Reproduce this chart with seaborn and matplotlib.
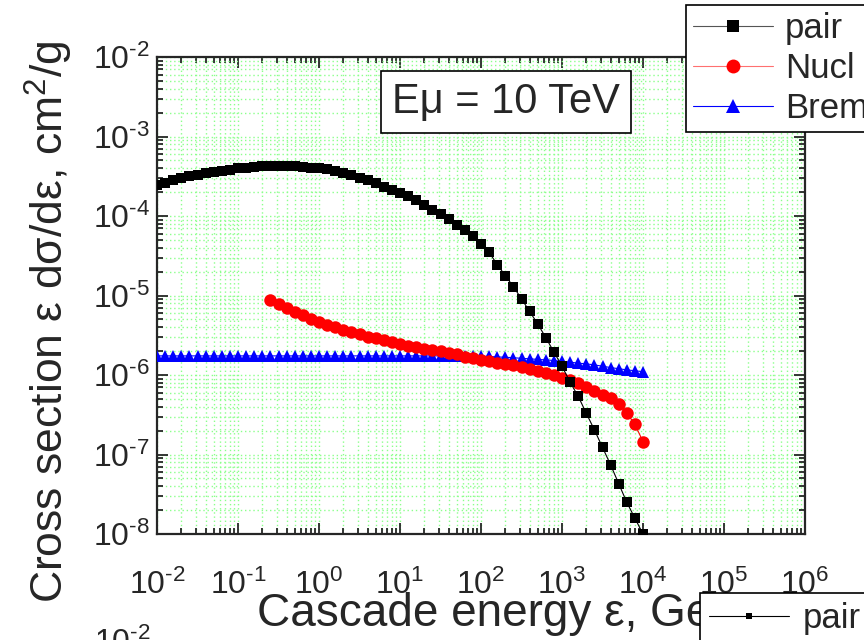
"""Differential cross sections of muon energy loss processes at E_mu = 10 TeV."""

import numpy as np
import matplotlib
matplotlib.use("Agg")
import matplotlib.pyplot as plt
from matplotlib.lines import Line2D
from matplotlib.ticker import LogLocator, FuncFormatter, NullFormatter
import seaborn as sns

# log10 of cascade energy (GeV), 0.1 decade steps
log_e_all = [-2.0, -1.9, -1.8, -1.7, -1.6, -1.5, -1.4, -1.3, -1.2, -1.1,
             -1.0, -0.9, -0.8, -0.7, -0.6, -0.5, -0.4, -0.3, -0.2, -0.1,
             0.0, 0.1, 0.2, 0.3, 0.4, 0.5, 0.6, 0.7, 0.8, 0.9,
             1.0, 1.1, 1.2, 1.3, 1.4, 1.5, 1.6, 1.7, 1.8, 1.9,
             2.0, 2.1, 2.2, 2.3, 2.4, 2.5, 2.6, 2.7, 2.8, 2.9,
             3.0, 3.1, 3.2, 3.3, 3.4, 3.5, 3.6, 3.7, 3.8, 3.9, 4.0]
log_e_nucl = log_e_all[14:]

# epsilon dsigma/depsilon, cm^2/g
pair = [2.45e-4, 2.63e-4, 2.82e-4, 3.02e-4, 3.16e-4, 3.31e-4, 3.47e-4, 3.55e-4, 3.72e-4, 3.80e-4,
        3.98e-4, 4.07e-4, 4.17e-4, 4.27e-4, 4.27e-4, 4.27e-4, 4.27e-4, 4.27e-4, 4.17e-4, 4.07e-4,
        3.98e-4, 3.89e-4, 3.72e-4, 3.47e-4, 3.24e-4, 3.02e-4, 2.82e-4, 2.57e-4, 2.34e-4, 2.14e-4,
        1.95e-4, 1.78e-4, 1.58e-4, 1.38e-4, 1.20e-4, 1.05e-4, 9.1e-5, 7.8e-5, 6.6e-5, 5.6e-5,
        4.5e-5, 3.5e-5, 2.45e-5, 1.78e-5, 1.29e-5, 9.1e-6, 6.3e-6, 4.4e-6, 2.95e-6, 1.95e-6,
        1.29e-6, 8.1e-7, 5.4e-7, 3.3e-7, 2.04e-7, 1.23e-7, 7.4e-8, 4.3e-8, 2.5e-8, 1.58e-8, 1.0e-8]

nucl = [8.71e-6, 7.76e-6, 6.92e-6, 6.17e-6, 5.62e-6, 5.13e-6,
        4.68e-6, 4.27e-6, 3.98e-6, 3.72e-6, 3.47e-6, 3.24e-6, 3.02e-6, 2.88e-6, 2.75e-6, 2.63e-6,
        2.45e-6, 2.34e-6, 2.24e-6, 2.14e-6, 2.09e-6, 2.00e-6, 1.91e-6, 1.82e-6, 1.70e-6, 1.62e-6,
        1.55e-6, 1.48e-6, 1.41e-6, 1.38e-6, 1.32e-6, 1.26e-6, 1.20e-6, 1.12e-6, 1.07e-6, 1.00e-6,
        9.3e-7, 8.7e-7, 7.9e-7, 7.1e-7, 6.3e-7, 5.6e-7, 5.1e-7, 4.3e-7, 3.3e-7, 2.4e-7, 1.45e-7]

brem = [1.74e-6, 1.74e-6, 1.74e-6, 1.74e-6, 1.74e-6, 1.74e-6, 1.74e-6, 1.74e-6, 1.74e-6, 1.74e-6,
        1.74e-6, 1.74e-6, 1.74e-6, 1.74e-6, 1.74e-6, 1.74e-6, 1.74e-6, 1.74e-6, 1.74e-6, 1.74e-6,
        1.74e-6, 1.74e-6, 1.74e-6, 1.74e-6, 1.74e-6, 1.74e-6, 1.74e-6, 1.74e-6, 1.74e-6, 1.74e-6,
        1.74e-6, 1.74e-6, 1.74e-6, 1.74e-6, 1.74e-6, 1.74e-6, 1.73e-6, 1.73e-6, 1.72e-6, 1.72e-6,
        1.72e-6, 1.71e-6, 1.69e-6, 1.67e-6, 1.65e-6, 1.62e-6, 1.60e-6, 1.57e-6, 1.55e-6, 1.52e-6,
        1.49e-6, 1.45e-6, 1.41e-6, 1.38e-6, 1.34e-6, 1.29e-6, 1.24e-6, 1.20e-6, 1.16e-6, 1.13e-6, 1.10e-6]

energy_all = 10.0 ** np.array(log_e_all)
energy_nucl = 10.0 ** np.array(log_e_nucl)

sns.set_style("ticks")
plt.rcParams["font.family"] = ["Liberation Sans", "DejaVu Sans"]
plt.rcParams["mathtext.fontset"] = "custom"
plt.rcParams["mathtext.rm"] = "Liberation Sans"
plt.rcParams["mathtext.it"] = "Liberation Sans:italic"
plt.rcParams["mathtext.bf"] = "Liberation Sans:bold"

fig = plt.figure(figsize=(8.64, 6.4), dpi=100)
ax = fig.add_axes([157 / 864, 1 - 534 / 640, 648 / 864, 477 / 640])

sns.lineplot(x=energy_all, y=pair, ax=ax, color="black", lw=0.8, marker="s",
             markersize=7, markeredgewidth=0, label="pair", legend=False, zorder=5)
sns.lineplot(x=energy_nucl, y=nucl, ax=ax, color="red", lw=0.8, marker="o",
             markersize=9, markeredgewidth=0, label="Nucl", legend=False, zorder=4)
sns.lineplot(x=energy_all, y=brem, ax=ax, color="blue", lw=0.8, marker="^",
             markersize=9, markeredgewidth=0, label="Brem", legend=False, zorder=3)

ax.set_xscale("log")
ax.set_yscale("log")
ax.set_xlim(1e-2, 1e6)
ax.set_ylim(1e-8, 1e-2)


def pow_fmt(v, pos):
    e = int(round(np.log10(v)))
    if e < 0:
        return r"$\mathregular{10^{\text{-}%d}}$" % (-e)
    return r"$\mathregular{10^{%d}}$" % e


for axis in (ax.xaxis, ax.yaxis):
    axis.set_major_locator(LogLocator(base=10, numticks=20))
    axis.set_minor_locator(LogLocator(base=10, subs=np.arange(2, 10), numticks=20))
    axis.set_major_formatter(FuncFormatter(pow_fmt))
    axis.set_minor_formatter(NullFormatter())

ax.grid(which="both", color="#8cff8c", linestyle=(0, (1, 2)), linewidth=1.0)
ax.set_axisbelow(True)
ax.tick_params(which="both", direction="in", top=True, right=True, width=1.3)
ax.tick_params(which="major", length=8, labelsize=23)
ax.tick_params(axis="x", which="major", pad=26)
ax.tick_params(axis="y", which="major", pad=5)
ax.tick_params(which="minor", length=4)
for sp in ax.spines.values():
    sp.set_linewidth(1.6)

ax.set_xlabel("Cascade energy ε, GeV", fontsize=33)
ax.set_ylabel(r"Cross section ε dσ/dε, cm$^\mathregular{2}$/g", fontsize=32)
ax.xaxis.set_label_coords(0.529, -0.122)
ax.yaxis.set_label_coords(-0.127, 0.444)

ax.text(0.5386, 0.9057, "Eμ = 10 TeV", transform=ax.transAxes, fontsize=30,
        ha="center", va="center",
        bbox=dict(boxstyle="square,pad=0.26", facecolor="white", edgecolor="black", linewidth=1.2),
        zorder=10)

handles = [
    Line2D([], [], color="#555555", lw=0.8, marker="s", markersize=8,
           markerfacecolor="black", markeredgewidth=0),
    Line2D([], [], color="#ff7070", lw=0.8, marker="o", markersize=10,
           markerfacecolor="red", markeredgewidth=0),
    Line2D([], [], color="blue", lw=0.8, marker="^", markersize=10, markeredgewidth=0),
]
leg = fig.legend(handles, ["pair", "Nucl", "Brem"], loc="upper left",
                 bbox_to_anchor=(686 / 864, 1 - 5 / 640), fontsize=25, frameon=True,
                 fancybox=False, framealpha=1, edgecolor="black", handlelength=2.3,
                 handletextpad=0.35, borderpad=0.2, labelspacing=0.2, borderaxespad=0)
leg.get_frame().set_linewidth(1.2)
leg.set_zorder(20)

# fragments of a neighbouring panel visible at the bottom edge
leg2 = fig.legend([Line2D([], [], color="black", lw=0.8, marker="s", markersize=5,
                          markeredgewidth=0)], ["pair"], loc="upper left",
                  bbox_to_anchor=(700 / 864, 1 - 593 / 640), fontsize=25, frameon=True,
                  fancybox=False, framealpha=1, edgecolor="black", handlelength=2.3,
                  handletextpad=0.4, borderpad=0.25, borderaxespad=0)
leg2.get_frame().set_linewidth(1.2)
fig.text(94 / 864, 1 - 628 / 640, r"$\mathregular{10^{\text{-}2}}$", fontsize=23, va="top", ha="left")

fig.savefig("out.png", dpi=100)
